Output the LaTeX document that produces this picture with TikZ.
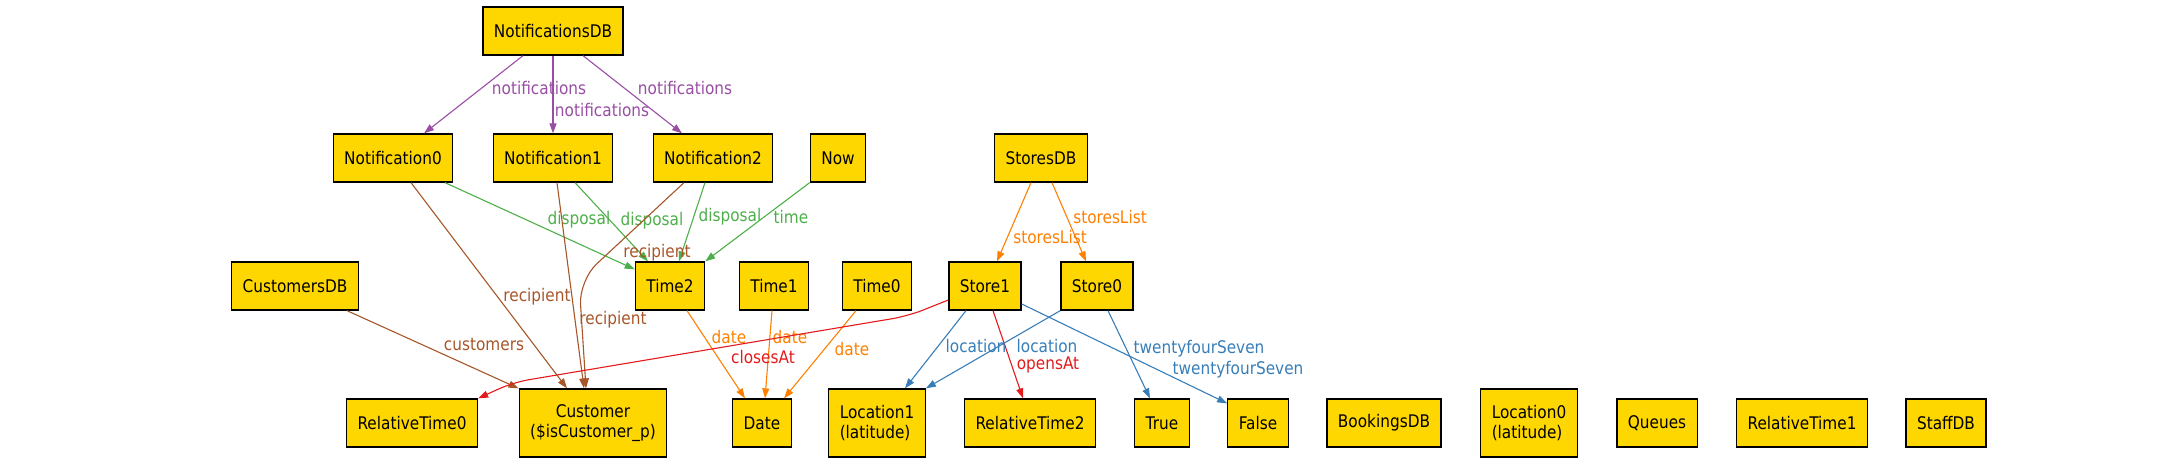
\documentclass[tikz,border=0pt]{standalone}
\usepackage{fontspec}
\setmainfont[FakeStretch=0.88]{DejaVu Sans}
\usepackage{xcolor}
\usepackage{tikz}
\usetikzlibrary{positioning, arrows.meta, calc}
\definecolor{boxgold}{RGB}{255, 215, 0}
\definecolor{edgepurple}{RGB}{152, 78, 163}
\definecolor{edgegreen}{RGB}{77, 175, 74}
\definecolor{edgebrown}{RGB}{166, 86, 40}
\definecolor{edgeorange}{RGB}{255, 127, 0}
\definecolor{edgered}{RGB}{228, 26, 28}
\definecolor{edgeblue}{RGB}{55, 126, 184}

\begin{document}
\begin{tikzpicture}[x=0.5pt, y=-0.5pt,
    entity/.style={draw=black, fill=boxgold, line width=0.65pt, inner xsep=5.5pt, inner ysep=0pt, minimum height=24pt, font=\fontsize{8.7}{10}\selectfont},
    entity2/.style={entity, minimum height=34pt},
    link/.style={line width=0.55pt, -{Triangle[length=5pt, width=3.5pt]}},
    lbl/.style={font=\fontsize{8.7}{10}\selectfont, inner sep=0pt}]
    \useasboundingbox (0,0) rectangle (2175,462);
    % Databases and notifications
    \node[entity] (notifdb) at (553,31) {NotificationsDB};
    \node[entity] (n0) at (393,158) {Notification0};
    \node[entity] (n1) at (553,158) {Notification1};
    \node[entity] (n2) at (713,158) {Notification2};
    \node[entity] (now) at (838,158) {Now};
    \node[entity] (storesdb) at (1041,158) {StoresDB};
    % Middle row
    \node[entity] (custdb) at (295,286) {CustomersDB};
    \node[entity] (time2) at (670,286) {Time2};
    \node[entity] (time1) at (774,286) {Time1};
    \node[entity] (time0) at (877,286) {Time0};
    \node[entity] (store1) at (985,286) {Store1};
    \node[entity] (store0) at (1097,286) {Store0};
    % Bottom row
    \node[entity] (rt0) at (412,423) {RelativeTime0};
    \node[entity2, align=center] (cust) at (593,423) {Customer\\(\$isCustomer\_p)};
    \node[entity] (date) at (762,423) {Date};
    \node[entity2, align=left] (loc1) at (877,423) {Location1\\(latitude)};
    \node[entity] (rt2) at (1030,423) {RelativeTime2};
    \node[entity] (true) at (1162,423) {True};
    \node[entity] (false) at (1258,423) {False};
    \node[entity2, align=left] (loc0) at (1529,423) {Location0\\(latitude)};
    \foreach \n/\x/\t in {bookings/1384/BookingsDB, queues/1657/Queues, rt1/1802/RelativeTime1, staff/1946/StaffDB} {
        \node[entity] (\n) at (\x,423) {\t};
    }
    % notifications
    \draw[link, edgepurple] ($(notifdb.south)+(-30,0)$) -- ($(n0.north)+(31,0)$) node[lbl] (l-nt0) at (539,88) {notifications};
    \draw[link, edgepurple] (notifdb.south) -- (n1.north) node[lbl] (l-nt1) at (602,110) {notifications};
    \draw[link, edgepurple] ($(notifdb.south)+(30,0)$) -- ($(n2.north)+(-31,0)$) node[lbl] (l-nt2) at (685,88) {notifications};
    % disposal and time
    \draw[link, edgegreen] ($(n0.south)+(52,0)$) -- ($(time2.north west)+(0,8)$) node[lbl] (l-dp0) at (579,220) {disposal};
    \draw[link, edgegreen] ($(n1.south)+(22,0)$) -- ($(time2.north)+(-22,0)$) node[lbl] (l-dp1) at (652,221) {disposal};
    \draw[link, edgegreen] ($(n2.south)+(-8,0)$) -- ($(time2.north)+(9,0)$) node[lbl] (l-dp2) at (730,217) {disposal};
    \draw[link, edgegreen] (now.south west) -- (time2.north east) node[lbl] (l-time) at (791,217) {time};
    % recipient and customers
    \draw[link, edgebrown] ($(n0.south)+(18,0)$) -- ($(cust.north)+(-26,0)$) node[lbl] (l-rc0) at (537,297) {recipient};
    \draw[link, edgebrown] ($(n1.south)+(4,0)$) -- ($(cust.north)+(-9,0)$) node[lbl] (l-rc1) at (613,320) {recipient};
    \draw[link, edgebrown, rounded corners=12pt] ($(n2.south)+(-29,0)$) -- ($(cust.north)+(-14,-108)$) -- ($(cust.north)+(-7,0)$) node[lbl] (l-rc2) at (657,253) {recipient};
    \draw[link, edgebrown] ($(custdb.south)+(52,0)$) -- (cust.north west) node[lbl] (l-cust) at (484,345) {customers};
    % dates
    \draw[link, edgeorange] ($(time2.south)+(17,0)$) -- ($(date.north)+(-17,0)$) node[lbl] (l-dt2) at (729,337) {date};
    \draw[link, edgeorange] ($(time1.south)+(-2,0)$) -- ($(date.north)+(3,0)$) node[lbl] (l-dt1) at (790,337) {date};
    \draw[link, edgeorange] ($(time0.south)+(-21,0)$) -- ($(date.north)+(22,0)$) node[lbl] (l-dt0) at (852,349) {date};
    % stores
    \draw[link, edgeorange] ($(storesdb.south)+(-10,0)$) -- ($(store1.north)+(12,0)$) node[lbl] (l-sl1) at (1050,237) {storesList};
    \draw[link, edgeorange] ($(storesdb.south)+(11,0)$) -- ($(store0.north)+(-11,0)$) node[lbl] (l-sl0) at (1110,217) {storesList};
    \draw[link, edgered, rounded corners=8pt] ($(store1.west)+(0,14)$) -- ($(store1.west)+(-40,30)$) -- ($(rt0.north east)+(35,-16)$) -- (rt0.north east) node[lbl] (l-close) at (763,357) {closesAt};
    \draw[link, edgered] ($(store1.south)+(8,0)$) -- ($(rt2.north)+(-7,0)$) node[lbl] (l-open) at (1048,365) {opensAt};
    \draw[link, edgeblue] ($(store1.south)+(-19,0)$) -- ($(loc1.north)+(28,0)$) node[lbl] (l-loc1) at (976,346) {location};
    \draw[link, edgeblue] (store0.south west) -- (loc1.north east) node[lbl] (l-loc0) at (1047,346) {location};
    \draw[link, edgeblue] ($(store0.south)+(11,0)$) -- ($(true.north)+(-12,0)$) node[lbl] (l-tfs0) at (1199,349) {twentyfourSeven};
    \draw[link, edgeblue] ($(store1.east)+(0,18)$) -- ($(false.north west)+(0,5)$) node[lbl] (l-tfs1) at (1238,370) {twentyfourSeven};
\end{tikzpicture}
\end{document}
